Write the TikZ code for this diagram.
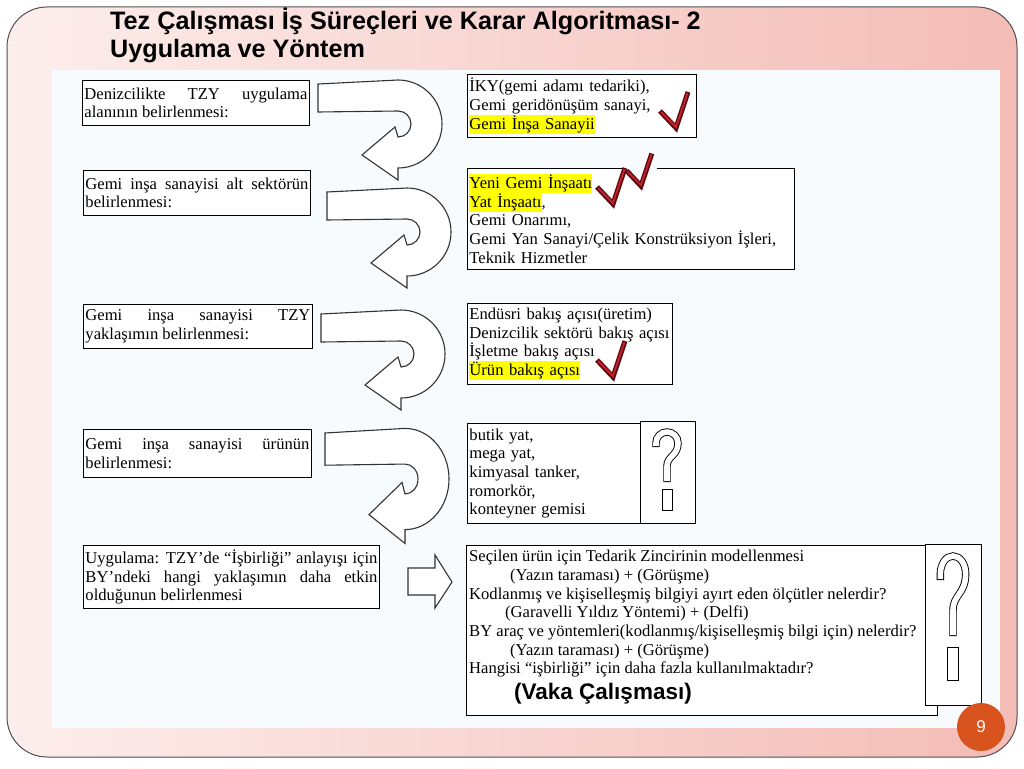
\documentclass[tikz,border=0pt]{standalone}
\usepackage{fontspec}
\setmainfont{Liberation Serif}
\newfontfamily\arialf{Liberation Sans}
\definecolor{bgL}{HTML}{FCEEEC}
\definecolor{bgR}{HTML}{F4BCB6}
\definecolor{bordercol}{HTML}{505050}
\definecolor{panelcol}{HTML}{F8FBFD}
\definecolor{numbg}{HTML}{D9531E}
\definecolor{chkdark}{HTML}{5A0A10}
\definecolor{chkred}{HTML}{C8202C}
\definecolor{hly}{HTML}{FFFF00}
\newcommand\hlt[1]{{\setlength\fboxsep{0pt}\colorbox{hly}{\rule[-4.7pt]{0pt}{18.7pt}#1}}}
\tolerance=10000
\hbadness=10000
\begin{document}
\begin{tikzpicture}[x=1pt,y=-1pt,
  body/.style={font=\fontsize{16.6}{18.7}\selectfont},
  boxst/.style={draw=black, line width=0.9pt, fill=white, anchor=north west, inner xsep=2pt, inner ysep=2pt},
  lbox/.style={boxst, align=justify, body},
  rbox/.style={boxst, align=left, body},
  ushape/.style={draw=black!80, line width=1.1pt, fill=white, line join=miter},
  uturn/.pic={\path[ushape] (-80,-40) -- (0,-44) arc[start angle=-90, end angle=90, radius=44] -- (0,56) -- (-36,31) -- (-3,3) -- (0,13) arc[start angle=90, end angle=-90, radius=13] -- (-80,-12) -- cycle;},
  chk/.pic={\draw[chkdark, line width=5pt, line join=miter] (-16,-17) -- (0,0) -- (12,-36);
            \draw[chkred, line width=1.8pt, line join=miter] (-15,-16) -- (0,-1) -- (11.5,-35);},
  qmark/.pic={\draw[black, line width=7.4pt] (-11,15) -- (-11,11) arc[start angle=180, end angle=360, radius=11] .. controls (11,24) and (0,24) .. (0,34) -- (0,50);
              \draw[white, line width=5.6pt, shorten <=0.9pt, shorten >=0.9pt] (-11,15) -- (-11,11) arc[start angle=180, end angle=360, radius=11] .. controls (11,24) and (0,24) .. (0,34) -- (0,50);
              \draw[black, line width=0.9pt, fill=white] (-5,57) rectangle (5,78);}
]
\useasboundingbox (0,0) rectangle (1024,768);
% slide background
\fill[white] (0,0) rectangle (1024,768);
\path[draw=bordercol, line width=1pt, rounded corners=40pt, left color=bgL, right color=bgR] (7,7) rectangle (1017,757);
\fill[panelcol] (52,70) rectangle (1000,728);

% title
\node[anchor=base west, inner sep=0, font=\arialf\bfseries\fontsize{25.2}{29}\selectfont] (title1) at (110,30) {Tez Çalışması İş Süreçleri ve Karar Algoritması- 2};
\node[anchor=base west, inner sep=0, font=\arialf\bfseries\fontsize{25.2}{29}\selectfont] (title2) at (110,58) {Uygulama ve Yöntem};

% left boxes
\node[lbox, text width=223pt, minimum height=45pt] (l1) at (82,80) {Denizcilikte TZY uygulama\linebreak alanının belirlenmesi:};
\node[lbox, text width=223pt, minimum height=45pt] (l2) at (83,170) {Gemi inşa sanayisi alt sektörün\linebreak belirlenmesi:};
\node[lbox, text width=225pt, minimum height=44pt] (l3) at (83,304) {Gemi inşa sanayisi TZY\linebreak yaklaşımın belirlenmesi:};
\node[lbox, text width=224pt, minimum height=48pt] (l4) at (83,429) {Gemi inşa sanayisi ürünün\linebreak belirlenmesi:};
\node[lbox, text width=292pt, minimum height=63pt] (l5) at (83,545) {Uygulama: TZY’de “İşbirliği” anlayışı için\linebreak BY’ndeki hangi yaklaşımın daha etkin\linebreak olduğunun belirlenmesi};

% right boxes
\node[rbox, text width=225pt, minimum height=63pt] (r1) at (467,74) {İKY(gemi adamı tedariki),\\ Gemi geridönüşüm sanayi,\\ \hlt{Gemi İnşa Sanayii}};
\node[rbox, text width=323pt, minimum height=101pt] (r2) at (467,168) {\hlt{Yeni Gemi İnşaatı}\\ \hlt{Yat İnşaatı},\\ Gemi Onarımı,\\ Gemi Yan Sanayi/Çelik Konstrüksiyon İşleri,\\ Teknik Hizmetler};
\node[rbox, text width=201pt, minimum height=81pt] (r3) at (467,303) {Endüsri bakış açısı(üretim)\\ Denizcilik sektörü bakış açısı\\ İşletme bakış açısı\\ \hlt{Ürün bakış açısı}};
\node[rbox, text width=169pt, minimum height=100pt] (r4) at (467,423) {butik yat,\\ mega yat,\\ kimyasal tanker,\\ romorkör,\\ konteyner gemisi};
\node[boxst, minimum width=55pt, minimum height=102pt, inner sep=0] (q4) at (640,421) {};
\node[boxst, minimum width=471pt, minimum height=170pt, inner sep=0] (r5) at (466,545) {};
\node[anchor=north west, align=left, inner sep=0, body] (t5) at (469,550) {Seçilen ürün için Tedarik Zincirinin modellenmesi\\
\hspace*{41pt}(Yazın taraması) + (Görüşme)\\
Kodlanmış ve kişiselleşmiş bilgiyi ayırt eden ölçütler nelerdir?\\
\hspace*{36pt}(Garavelli Yıldız Yöntemi) + (Delfi)\\
BY araç ve yöntemleri(kodlanmış/kişiselleşmiş bilgi için) nelerdir?\\
\hspace*{41pt}(Yazın taraması) + (Görüşme)\\
Hangisi “işbirliği” için daha fazla kullanılmaktadır?};
\node[boxst, minimum width=56pt, minimum height=161pt, inner sep=0] (q5) at (925,544) {};
\node[anchor=base west, inner sep=0, font=\arialf\bfseries\fontsize{22.5}{25}\selectfont] (vaka) at (514,699) {(Vaka Çalışması)};

% u-turn arrows
\pic at (398,124) {uturn};
\pic at (407,232) {uturn};
\pic at (401,354) {uturn};
\pic[yscale=1.15] at (405,479) {uturn};

% straight block arrow
\path[ushape] (408,568) -- (435,568) -- (435,555) -- (452,582) -- (435,608) -- (435,595) -- (408,595) -- cycle;

% check marks
\pic at (676,128) {chk};
\fill[panelcol] (624,164) rectangle (657,172.5);
\pic at (613,204) {chk};
\pic[scale=0.9] at (641,186) {chk};
\pic at (613,377) {chk};

% question marks
\pic at (667,432) {qmark};
\pic[xscale=1.15, yscale=1.6] at (953,556) {qmark};

% page number
\node[circle, fill=numbg, minimum size=48pt, inner sep=0, text=white, font=\arialf\fontsize{17}{17}\selectfont] (pg) at (981,727) {9};
\end{tikzpicture}
\end{document}
